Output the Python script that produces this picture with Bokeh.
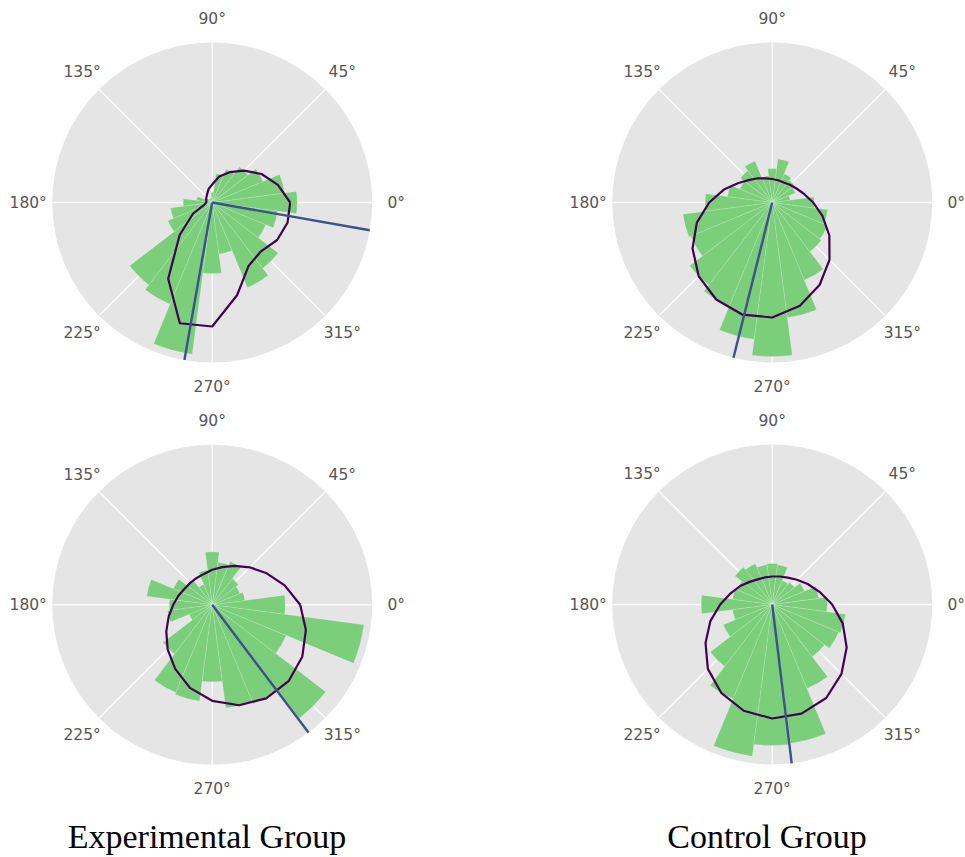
import numpy as np
from bokeh.plotting import figure
from bokeh.models import Range1d
from bokeh.core.properties import value
from bokeh.embed import file_html
from bokeh.resources import INLINE

# ---------------------------------------------------------------------------
# Data: circular histograms (24 sectors of 15 deg, centred on 0, 15, ..., 345),
# smoothed density evaluated at the same angles, and mean direction(s).
# Radial values are in axis units; the outer ring of each panel is R_LIM.
# ---------------------------------------------------------------------------
R_LIM = 160
sector_deg = list(range(0, 360, 15))
SECTOR_WIDTH = 15
tick_deg = [0, 45, 90, 135, 180, 225, 270, 315]
tick_labels = ["0°", "45°", "90°", "135°", "180°", "225°", "270°", "315°"]

exp_a_bars = [85, 73, 55, 45, 36, 29, 10, 5, 4, 5, 8, 16,
              29, 42, 48, 104, 110, 153, 71, 52, 92, 83, 58, 66]
exp_a_density = [78, 68, 57, 45, 35, 27, 18, 14, 10, 8, 7, 6,
                 6, 8, 22, 46, 88, 125, 124, 96, 73, 69, 75, 78]
exp_a_mean = [260, 350]

ctl_a_bars = [42, 18, 25, 28, 31, 44, 34, 27, 45, 40, 35, 45,
              67, 90, 88, 104, 112, 138, 154, 116, 84, 62, 60, 56]
ctl_a_density = [41, 33, 28, 25, 23, 23, 23.5, 25, 28, 32, 39, 50,
                 63, 78, 92, 104, 112, 116, 115, 107, 95, 81, 66, 52]
ctl_a_mean = [256]

exp_b_bars = [73, 33, 30, 33, 47, 43, 53, 35, 22, 30, 42, 66,
              43, 45, 25, 62, 95, 97, 77, 104, 107, 143, 80, 153]
exp_b_density = [88, 75, 63, 53, 45, 39, 35, 32, 31, 31, 32, 35,
                 39, 45, 53, 63, 74, 86, 96, 104, 108, 108, 104, 97]
exp_b_mean = [307]

ctl_b_bars = [55, 47, 35, 28, 26, 40, 41, 40, 44, 47, 38, 40,
              71, 40, 53, 78, 102, 153, 141, 140, 91, 66, 72, 74]
ctl_b_density = [60, 49, 41, 35, 31, 29, 28, 28, 29, 32, 37, 43,
                 52, 64, 77, 91, 102, 110, 114, 113, 108, 98, 86, 73]
ctl_b_mean = [277]

group_titles = ["Experimental Group", "Control Group"]

# ---------------------------------------------------------------------------
# Page layout
# ---------------------------------------------------------------------------
W, H = 965, 857
LABEL_R = 184

BG = "#E5E5E5"
BAR_COLOR = "#7BCF7B"
DENSITY_COLOR = "#440154"
MEAN_COLOR = "#3B528B"
TEXT_COLOR = "#555555"

p = figure(width=W, height=H, output_backend="svg", toolbar_location=None,
           x_axis_type=None, y_axis_type=None, min_border=0,
           x_range=Range1d(0, W), y_range=Range1d(0, H))
p.outline_line_color = None
p.grid.visible = False
p.background_fill_color = "white"
p.border_fill_color = "white"


def polar_panel(cx_page, cy_page, bars, density, means):
    cx, cy = cx_page, H - cy_page

    # panel disc and angular grid
    p.circle(x=[cx], y=[cy], radius=R_LIM, fill_color=BG, line_color=None)
    t = np.deg2rad(tick_deg)
    p.segment(x0=[cx] * len(t), y0=[cy] * len(t),
              x1=list(cx + R_LIM * np.cos(t)), y1=list(cy + R_LIM * np.sin(t)),
              line_color="white", line_width=1.3)

    # histogram sectors
    c = np.deg2rad(np.array(sector_deg, dtype=float))
    half = np.deg2rad(SECTOR_WIDTH / 2)
    p.wedge(x=[cx] * len(c), y=[cy] * len(c), radius=list(bars),
            start_angle=list(c - half), end_angle=list(c + half),
            fill_color=BAR_COLOR, line_color="white", line_alpha=0.25,
            line_width=0.6)

    # density curve (closed)
    rr = np.array(list(density) + [density[0]], dtype=float)
    aa = np.deg2rad(np.array(sector_deg + [sector_deg[0]], dtype=float))
    p.line(x=list(cx + rr * np.cos(aa)), y=list(cy + rr * np.sin(aa)),
           line_color=DENSITY_COLOR, line_width=2.2, line_join="round")

    # mean direction(s)
    for m in means:
        a = np.deg2rad(m)
        p.line(x=[cx, cx + R_LIM * np.cos(a)], y=[cy, cy + R_LIM * np.sin(a)],
               line_color=MEAN_COLOR, line_width=2.4)

    # angle labels
    p.text(x=list(cx + LABEL_R * np.cos(t)), y=list(cy + LABEL_R * np.sin(t)),
           text=tick_labels, text_align="center", text_baseline="middle",
           text_font=value("DejaVu Sans"), text_font_size="15.5px",
           text_color=TEXT_COLOR)


polar_panel(211.7, 202, exp_a_bars, exp_a_density, exp_a_mean)
polar_panel(771.7, 202, ctl_a_bars, ctl_a_density, ctl_a_mean)
polar_panel(211.7, 604.3, exp_b_bars, exp_b_density, exp_b_mean)
polar_panel(771.7, 604, ctl_b_bars, ctl_b_density, ctl_b_mean)

# column titles
p.text(x=[206.5, 766.5], y=[H - 836, H - 836], text=group_titles,
       text_align="center", text_baseline="middle",
       text_font=value("Liberation Serif"), text_font_size="34px",
       text_color="black")

open("out.html", "w").write(file_html(p, INLINE))
